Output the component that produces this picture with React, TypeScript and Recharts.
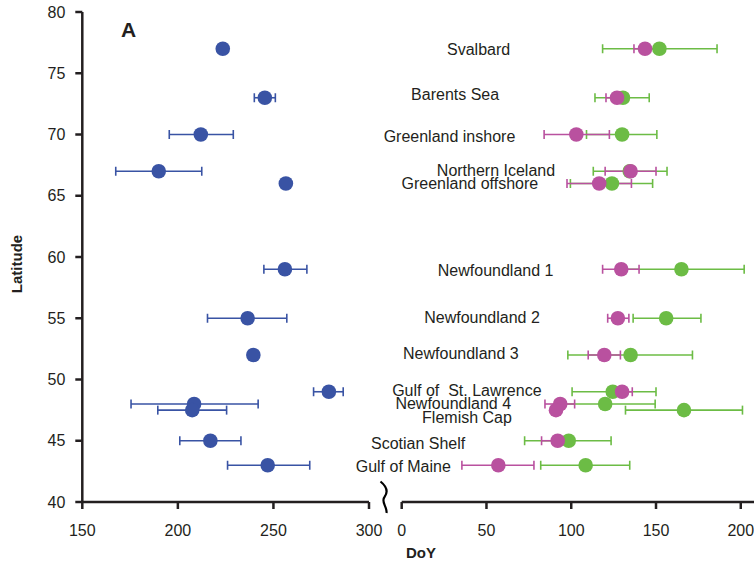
import React from 'react';
import { ScatterChart, Scatter, XAxis, YAxis, ErrorBar } from 'recharts';

// ---- data ----
const sites = [
  'Svalbard', 'Barents Sea', 'Greenland inshore', 'Northern Iceland', 'Greenland offshore',
  'Newfoundland 1', 'Newfoundland 2', 'Newfoundland 3', 'Gulf of  St. Lawrence', 'Newfoundland 4',
  'Flemish Cap', 'Scotian Shelf', 'Gulf of Maine',
];
const latitude = [77, 73, 70, 67, 66, 59, 55, 52, 49, 48, 47.5, 45, 43];

const blueDoy = [223.5, 245.5, 212, 190, 256.5, 256, 236.5, 239.5, 279, 208.5, 207.5, 217, 247];
const blueLow = [null, 240, 195.5, 167.5, null, 245, 215.5, null, 271, 175.5, 189.5, 201, 226];
const blueHigh = [null, 251, 229, 212.5, null, 267.5, 257, null, 286.5, 242, 225.5, 233, 269];

const magentaDoy = [143.5, 127, 103, 135, 116.5, 129.5, 127.5, 119.5, 130, 93.5, 91, 92, 57];
const magentaLow = [137, 120.5, 84, 120, 97.5, 118.5, 121.5, 110, 126, 84.5, null, 82.5, 35.5];
const magentaHigh = [150, 133.5, 122.5, 150, 135.5, 140, 134, 129, 136, 102, null, 101, 78];

const greenDoy = [152, 130.5, 130, 134.5, 124, 165, 156, 135, 124.5, 120, 166.5, 98.5, 108.5];
const greenLow = [118.5, 114, 109, 113, 99.5, 128.5, 136.5, 98, 100.5, 90.5, 132, 72.5, 82];
const greenHigh = [186, 146, 150.5, 156.5, 148, 202, 176.5, 171.5, 150, 149.5, 201, 123.5, 134.5];

// label anchors (right end of each site name) in DoY / latitude units
const labelDoy = [64, 57.5, 67, 90.5, 80.5, 89.5, 81.5, 69, 82.5, 64.5, 65, 37.5, 29];
const labelLat = [76.9, 73.3, 69.8, 67.1, 66, 58.9, 55.1, 52.1, 49.1, 48.05, 46.9, 44.8, 42.9];

const latTicks = [40, 45, 50, 55, 60, 65, 70, 75, 80];
const leftTicks = [150, 200, 250, 300];
const rightTicks = [0, 50, 100, 150, 200];

// ---- style ----
const BLUE = '#3953a4';
const MAGENTA = '#b9519f';
const GREEN = '#6cbc45';
const INK = '#231f20';
const FONT = '"Liberation Sans", Arial, Helvetica, sans-serif';

const build = (doy: number[], low: (number | null)[], high: (number | null)[]) =>
  doy.map((x, i) => ({
    doy: x,
    lat: latitude[i],
    err: low[i] == null || high[i] == null ? undefined : [x - (low[i] as number), (high[i] as number) - x],
  }));

const blueData = build(blueDoy, blueLow, blueHigh);
const magentaData = build(magentaDoy, magentaLow, magentaHigh);
const greenData = build(greenDoy, greenLow, greenHigh);
const labelData = sites.map((name, i) => ({ name, doy: labelDoy[i], lat: labelLat[i] }));

const dot = (color: string) => (p: any) =>
  p.cx == null ? <g /> : <circle cx={p.cx} cy={p.cy} r={7.3} fill={color} />;

const labelShape = (p: any) =>
  p.cx == null ? <g /> : (
    <text
      x={p.cx}
      y={p.cy}
      textAnchor="end"
      dominantBaseline="central"
      fontSize={16}
      fontFamily={FONT}
      fill={INK}
      style={{ whiteSpace: 'pre' }}
    >
      {p.payload?.name}
    </text>
  );

const tickStyle = { fill: INK, fontSize: 16, fontFamily: FONT };
const axisLine = { stroke: INK, strokeWidth: 2.5 };
const tickLine = { stroke: INK, strokeWidth: 2.5 };

export default function App() {
  return (
    <div style={{ position: 'absolute', left: 0, top: 0, width: 754, height: 562, background: '#fff' }}>
      <div style={{ position: 'absolute', left: 0, top: 0 }}>
        <ScatterChart width={400} height={562} margin={{ top: 12, right: 31, left: 0, bottom: 0 }}>
          <XAxis
            type="number"
            dataKey="doy"
            domain={[150, 300]}
            ticks={leftTicks}
            height={60}
            tick={tickStyle}
            tickSize={7}
            tickMargin={16}
            axisLine={axisLine}
            tickLine={tickLine}
            interval={0}
          />
          <YAxis
            type="number"
            dataKey="lat"
            domain={[40, 80]}
            ticks={latTicks}
            width={82.3}
            tick={tickStyle}
            tickSize={7}
            tickMargin={10}
            axisLine={axisLine}
            tickLine={tickLine}
            interval={0}
          />
          <Scatter data={blueData} fill={BLUE} shape={dot(BLUE)} isAnimationActive={false}>
            <ErrorBar dataKey="err" direction="x" width={4.5} stroke={BLUE} strokeWidth={1.6} />
          </Scatter>
        </ScatterChart>
      </div>
      <div style={{ position: 'absolute', left: 300, top: 0 }}>
        <ScatterChart width={454} height={562} margin={{ top: 12, right: 0, left: 101.7, bottom: 0 }}>
          <XAxis
            type="number"
            dataKey="doy"
            domain={[0, 207.8]}
            ticks={rightTicks}
            height={60}
            tick={tickStyle}
            tickSize={7}
            tickMargin={16}
            axisLine={axisLine}
            tickLine={tickLine}
            interval={0}
          />
          <YAxis type="number" dataKey="lat" domain={[40, 80]} ticks={latTicks} hide />
          <Scatter data={labelData} fill="none" shape={labelShape} isAnimationActive={false} />
          <Scatter data={greenData} fill={GREEN} shape={dot(GREEN)} isAnimationActive={false}>
            <ErrorBar dataKey="err" direction="x" width={4.5} stroke={GREEN} strokeWidth={1.6} />
          </Scatter>
          <Scatter data={magentaData} fill={MAGENTA} shape={dot(MAGENTA)} isAnimationActive={false}>
            <ErrorBar dataKey="err" direction="x" width={4.5} stroke={MAGENTA} strokeWidth={1.6} />
          </Scatter>
        </ScatterChart>
      </div>
      <svg
        width={754}
        height={562}
        style={{ position: 'absolute', left: 0, top: 0, pointerEvents: 'none' }}
      >
        <text x={121} y={37} fontSize={21} fontWeight="bold" fontFamily={FONT} fill={INK}>A</text>
        <text x={406} y={558} fontSize={15} fontWeight="bold" fontFamily={FONT} fill={INK}>DoY</text>
        <text
          x={0}
          y={0}
          transform="translate(22,264) rotate(-90)"
          textAnchor="middle"
          fontSize={15}
          fontWeight="bold"
          fontFamily={FONT}
          fill={INK}
        >
          Latitude
        </text>
        <path
          d="M380.5,481.5 C386,486 389,491 384.5,497 C380.5,502 387.5,507 386.5,513"
          fill="none"
          stroke="#000"
          strokeWidth={2.2}
        />
      </svg>
    </div>
  );
}
